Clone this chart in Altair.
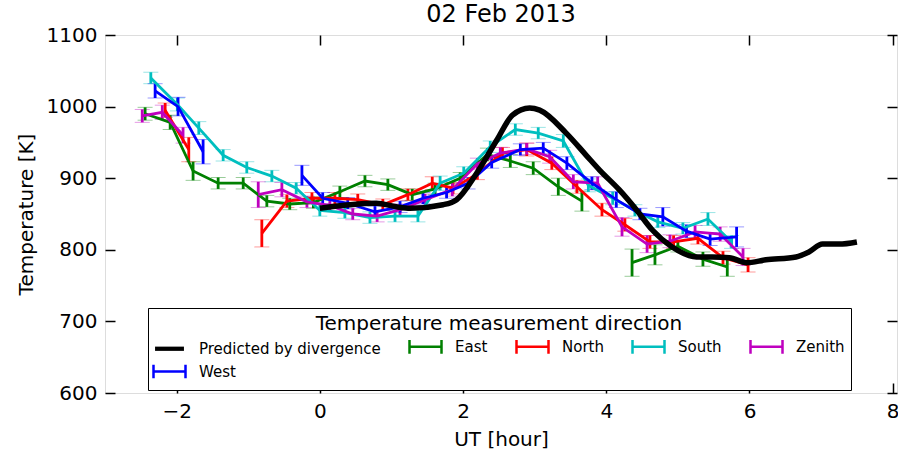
import altair as alt
import pandas as pd

SERIES = ["Predicted by divergence", "East", "North", "South", "Zenith", "West"]
COLORS = ["#000000", "#008000", "#ff0000", "#00bfbf", "#bf00bf", "#0000ff"]
X_TICKS = [-2, 0, 2, 4, 6, 8]
Y_TICKS = [600, 700, 800, 900, 1000, 1100]

# Predicted by divergence (thick black curve)
PRED_T = [0.0, 0.42, 0.79, 1.07, 1.26, 1.72, 1.91, 2.19, 2.47, 2.69, 2.93, 3.07, 3.44, 3.72,
          3.91, 4.18, 4.42, 4.64, 4.92, 5.26, 5.48, 5.72, 5.96, 6.23, 6.65, 6.83, 7.02, 7.25, 7.50]
PRED_K = [858, 863, 865, 860, 858, 863, 870, 907, 953, 988, 998, 995, 963, 932,
          911, 884, 856, 828, 804, 790, 790, 789, 782, 786, 790, 797, 808, 808, 811]

# Measurements: list of segments (gaps in the record break the line)
EAST_T = [[-2.44, -2.09, -1.77, -1.42, -1.07, -0.74, -0.42, -0.09, 0.28, 0.63, 0.95, 1.29, 1.61,
           1.96, 2.34, 2.66, 2.98, 3.33, 3.66], [4.36, 4.68, 5.00, 5.35, 5.69]]
EAST_K = [[990, 978, 910, 893, 893, 868, 864, 866, 881, 896, 891, 877, 885,
           900, 933, 924, 914, 888, 868], [782, 793, 805, 787, 776]]
EAST_E = [[9, 10, 13, 8, 8, 8, 8, 8, 8, 8, 8, 8, 8, 8, 9, 9, 9, 12, 14], [19, 14, 8, 10, 13]]

NORTH_T = [[-2.16, -1.83], [-0.81, -0.46, -0.11, 0.21, 0.53, 0.88, 1.23, 1.57, 1.86, 2.20, 2.55,
                            2.89, 3.24, 3.59, 3.94, 4.26, 4.61, 4.94, 5.28, 5.63, 5.98]]
NORTH_K = [[995, 940], [823, 868, 872, 872, 870, 863, 877, 893, 886, 906, 935,
                        940, 921, 888, 856, 835, 811, 811, 816, 789, 779]]
NORTH_E = [[10, 17], [19, 9, 8, 8, 8, 8, 8, 9, 8, 8, 8, 9, 9, 9, 9, 9, 9, 9, 8, 9, 10]]

SOUTH_T = [[-2.36, -1.99, -1.69, -1.35, -1.02, -0.67, -0.33, 0.0, 0.35, 0.70, 1.05, 1.37, 1.68,
            2.01, 2.38, 2.73, 3.05, 3.40, 3.75, 4.09, 4.40, 4.72, 5.07, 5.42, 5.75]]
SOUTH_K = [[1040, 1003, 970, 932, 915, 903, 886, 855, 852, 845, 847, 847, 893,
            907, 944, 968, 963, 952, 890, 872, 855, 839, 830, 843, 811]]
SOUTH_E = [[8, 9, 9, 8, 8, 8, 8, 8, 8, 8, 8, 8, 10, 9, 8, 8, 8, 9, 9, 9, 8, 8, 8, 9, 9]]

ZENITH_T = [[-2.48, -2.20, -1.91], [-0.86, -0.53, -0.18, 0.14, 0.46, 0.80, 1.12, 1.47, 1.85, 2.20,
                                    2.52, 2.89, 3.21, 3.54, 3.88, 4.22, 4.57, 4.89, 5.24, 5.59, 5.91]]
ZENITH_K = [[987, 992, 960], [877, 884, 867, 862, 850, 847, 856, 870, 884, 920,
                              935, 941, 930, 895, 893, 832, 808, 812, 825, 822, 790]]
ZENITH_E = [[9, 10, 11], [18, 10, 8, 8, 8, 8, 8, 8, 9, 8, 8, 8, 9, 10, 9, 13, 12, 9, 9, 10, 12]]

WEST_T = [[-2.30, -1.98, -1.63], [-0.25, 0.04, 0.39, 0.77, 1.12, 1.44, 1.77, 2.07, 2.40, 2.80,
                                  3.12, 3.45, 3.80, 4.14, 4.47, 4.79, 5.12, 5.45, 5.82]]
WEST_K = [[1022, 1000, 937], [904, 872, 865, 853, 860, 872, 880, 893, 922, 940,
                              942, 921, 893, 870, 850, 846, 826, 815, 818]]
WEST_E = [[10, 13, 17], [14, 8, 8, 8, 8, 8, 8, 8, 8, 8, 8, 9, 9, 11, 8, 13, 9, 9, 14]]

MEAS = {
    "East": (EAST_T, EAST_K, EAST_E),
    "North": (NORTH_T, NORTH_K, NORTH_E),
    "South": (SOUTH_T, SOUTH_K, SOUTH_E),
    "Zenith": (ZENITH_T, ZENITH_K, ZENITH_E),
    "West": (WEST_T, WEST_K, WEST_E),
}

rows = []
for name, (ts, ks, es) in MEAS.items():
    for si, (tt, kk, ee) in enumerate(zip(ts, ks, es)):
        for t, k, e in zip(tt, kk, ee):
            rows.append({"series": name, "key": f"{name}-{si}", "t": t, "T": k,
                         "lo": k - e, "hi": k + e})
obs = pd.DataFrame(rows)
pred = pd.DataFrame({"series": SERIES[0], "t": PRED_T, "T": PRED_K})

W, H = 792, 358
FONT = "DejaVu Sans"

x_scale = alt.Scale(domain=[-3, 8.06], nice=False, zero=False)
y_scale = alt.Scale(domain=[600, 1100], nice=False, zero=False)
color_scale = alt.Scale(domain=SERIES, range=COLORS)

H_PATH = "M-2,0L2,0M-2,-0.85L-2,0.85M2,-0.85L2,0.85"
LINE_PATH = "M-1.65,-0.11L1.65,-0.11L1.65,0.11L-1.65,0.11Z"
SHAPES = [LINE_PATH] + [H_PATH] * 5

tick_axis = dict(labels=False, domain=False, grid=False, ticks=True, tickSize=10,
                 tickWidth=1.5, tickColor="black", title=None)

# layer with label axes
lines = alt.Chart(obs).mark_line(strokeWidth=2.8).encode(
    x=alt.X("t:Q", scale=x_scale, axis=alt.Axis(
        orient="bottom", values=X_TICKS, format="d", title="UT [hour]", ticks=False, domain=False,
        grid=False, labelFontSize=20, labelPadding=8, labelFlush=False, labelOverlap=False,
        titleFontSize=20, titleFontWeight="normal", titlePadding=8,
        labelColor="black", titleColor="black", labelFont=FONT, titleFont=FONT)),
    y=alt.Y("T:Q", scale=y_scale, axis=alt.Axis(
        orient="left", values=Y_TICKS, format="d", title="Temperature [K]", ticks=False, domain=False,
        grid=False, labelFontSize=20, labelPadding=8, labelFlush=False, labelOverlap=False,
        titleFontSize=20, titleFontWeight="normal", titlePadding=10,
        labelColor="black", titleColor="black", labelFont=FONT, titleFont=FONT)),
    color=alt.Color("series:N", scale=color_scale, legend=None),
    detail="key:N",
)

# error bars; carries inward ticks on bottom and left edges
bars = alt.Chart(obs).mark_rule(strokeWidth=2.8).encode(
    x=alt.X("t:Q", scale=x_scale, axis=alt.Axis(orient="top", offset=-H, values=X_TICKS, **tick_axis)),
    y=alt.Y("lo:Q", scale=y_scale, axis=alt.Axis(orient="right", offset=-W, values=Y_TICKS, **tick_axis)),
    y2="hi:Q",
    color=alt.Color("series:N", scale=color_scale, legend=None),
)

# caps; carries inward ticks on top and right edges
caps = alt.Chart(obs).transform_fold(["lo", "hi"], as_=["end", "v"]).mark_tick(
    orient="horizontal", size=15, thickness=1, opacity=0.4
).encode(
    x=alt.X("t:Q", scale=x_scale, axis=alt.Axis(orient="bottom", offset=-H, values=X_TICKS, **tick_axis)),
    y=alt.Y("v:Q", scale=y_scale, axis=alt.Axis(orient="left", offset=-W, values=Y_TICKS, **tick_axis)),
    color=alt.Color("series:N", scale=color_scale, legend=None),
)

pred_line = alt.Chart(pred).mark_line(strokeWidth=5.5, interpolate="monotone").encode(
    x=alt.X("t:Q", scale=x_scale, axis=None),
    y=alt.Y("T:Q", scale=y_scale, axis=None),
    color=alt.Color("series:N", scale=color_scale, legend=None),
)

legend_kw = dict(
    title="Temperature measurement direction", orient="none", legendX=43, legendY=273,
    direction="horizontal", columns=5, titleAnchor="middle", titleAlign="center",
    titleFontSize=20, titleFontWeight="normal", titleFont=FONT, titleColor="black",
    titlePadding=3, titleLimit=700, labelFontSize=15, labelFont=FONT, labelColor="black",
    labelOffset=20, labelLimit=400, symbolOffset=6,
    symbolSize=256, symbolStrokeWidth=2.5, symbolOpacity=1, columnPadding=23,
    rowPadding=0, padding=6, strokeColor="black", fillColor="white",
)

legend_pts = alt.Chart(obs).mark_point(filled=False, opacity=0).encode(
    x=alt.X("t:Q", scale=x_scale, axis=None),
    y=alt.Y("T:Q", scale=y_scale, axis=None),
    color=alt.Color("series:N", scale=color_scale, legend=alt.Legend(**legend_kw)),
    shape=alt.Shape("series:N", scale=alt.Scale(domain=SERIES, range=SHAPES),
                    legend=alt.Legend(**legend_kw)),
)

chart = alt.layer(caps, bars, lines, pred_line, legend_pts).resolve_axis(
    x="independent", y="independent"
).resolve_legend(
    color="independent", shape="independent"
).properties(
    width=W, height=H,
    title=alt.TitleParams("02 Feb 2013", fontSize=24, fontWeight="normal", font=FONT,
                          color="black", offset=-2, anchor="middle"),
    autosize=alt.AutoSizeParams(type="none"),
    padding={"left": 105, "top": 35, "right": 1, "bottom": 63},
).configure_view(
    stroke="black", strokeWidth=2
).configure_legend(
    strokeWidth=2
).configure(font=FONT, background="white")

chart.save("out.html", embed_options={"renderer": "svg", "actions": False})
